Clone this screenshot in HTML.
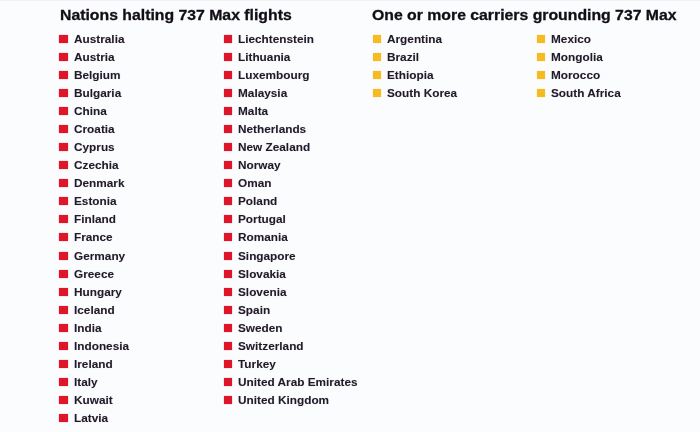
<!DOCTYPE html>
<html><head><meta charset="utf-8">
<style>
html,body{margin:0;padding:0;}
body{width:700px;height:432px;background:#fbfcfe;position:relative;overflow:hidden;font-family:"Liberation Sans",sans-serif;color:#211a28;}
h1{position:absolute;margin:0;font-size:15.2px;transform:scaleX(1.04);transform-origin:0 0;font-weight:bold;line-height:20px;top:5px;white-space:nowrap;color:#120e16;will-change:transform;-webkit-text-stroke:0.3px #120e16;}
.t{position:absolute;will-change:transform;height:20px;line-height:20px;font-size:11.8px;font-weight:bold;white-space:nowrap;text-shadow:0 0 1px rgba(40,30,50,.25);}
#w{position:absolute;left:0;top:0;width:700px;height:432px;}
#tl{position:absolute;left:0;top:0;width:700px;height:1px;background:#f1f1f3;}
i{position:absolute;width:8.4px;height:8px;margin-left:-0.3px;}
.r{background:#df1629;box-shadow:0 0 1.2px rgba(225,20,40,.45);}
.y{background:#f6bb1e;box-shadow:0 0 1.2px rgba(246,187,30,.45);}
</style></head><body><div id="w"><div id="tl"></div>
<h1 style="left:372px">One or more carriers grounding 737 Max</h1>
<h1 style="left:59.5px">Nations halting 737 Max flights</h1>
<i class="r" style="left:59.5px;top:34.70px"></i><div class="t" style="left:73.5px;top:28.70px">Australia</div>
<i class="r" style="left:59.5px;top:52.77px"></i><div class="t" style="left:73.5px;top:46.77px">Austria</div>
<i class="r" style="left:59.5px;top:70.84px"></i><div class="t" style="left:73.5px;top:64.84px">Belgium</div>
<i class="r" style="left:59.5px;top:88.91px"></i><div class="t" style="left:73.5px;top:82.91px">Bulgaria</div>
<i class="r" style="left:59.5px;top:106.98px"></i><div class="t" style="left:73.5px;top:100.98px">China</div>
<i class="r" style="left:59.5px;top:125.05px"></i><div class="t" style="left:73.5px;top:119.05px">Croatia</div>
<i class="r" style="left:59.5px;top:143.12px"></i><div class="t" style="left:73.5px;top:137.12px">Cyprus</div>
<i class="r" style="left:59.5px;top:161.19px"></i><div class="t" style="left:73.5px;top:155.19px">Czechia</div>
<i class="r" style="left:59.5px;top:179.26px"></i><div class="t" style="left:73.5px;top:173.26px">Denmark</div>
<i class="r" style="left:59.5px;top:197.33px"></i><div class="t" style="left:73.5px;top:191.33px">Estonia</div>
<i class="r" style="left:59.5px;top:215.40px"></i><div class="t" style="left:73.5px;top:209.40px">Finland</div>
<i class="r" style="left:59.5px;top:233.47px"></i><div class="t" style="left:73.5px;top:227.47px">France</div>
<i class="r" style="left:59.5px;top:251.54px"></i><div class="t" style="left:73.5px;top:245.54px">Germany</div>
<i class="r" style="left:59.5px;top:269.61px"></i><div class="t" style="left:73.5px;top:263.61px">Greece</div>
<i class="r" style="left:59.5px;top:287.68px"></i><div class="t" style="left:73.5px;top:281.68px">Hungary</div>
<i class="r" style="left:59.5px;top:305.75px"></i><div class="t" style="left:73.5px;top:299.75px">Iceland</div>
<i class="r" style="left:59.5px;top:323.82px"></i><div class="t" style="left:73.5px;top:317.82px">India</div>
<i class="r" style="left:59.5px;top:341.89px"></i><div class="t" style="left:73.5px;top:335.89px">Indonesia</div>
<i class="r" style="left:59.5px;top:359.96px"></i><div class="t" style="left:73.5px;top:353.96px">Ireland</div>
<i class="r" style="left:59.5px;top:378.03px"></i><div class="t" style="left:73.5px;top:372.03px">Italy</div>
<i class="r" style="left:59.5px;top:396.10px"></i><div class="t" style="left:73.5px;top:390.10px">Kuwait</div>
<i class="r" style="left:59.5px;top:414.17px"></i><div class="t" style="left:73.5px;top:408.17px">Latvia</div>
<i class="r" style="left:224px;top:34.70px"></i><div class="t" style="left:238px;top:28.70px">Liechtenstein</div>
<i class="r" style="left:224px;top:52.77px"></i><div class="t" style="left:238px;top:46.77px">Lithuania</div>
<i class="r" style="left:224px;top:70.84px"></i><div class="t" style="left:238px;top:64.84px">Luxembourg</div>
<i class="r" style="left:224px;top:88.91px"></i><div class="t" style="left:238px;top:82.91px">Malaysia</div>
<i class="r" style="left:224px;top:106.98px"></i><div class="t" style="left:238px;top:100.98px">Malta</div>
<i class="r" style="left:224px;top:125.05px"></i><div class="t" style="left:238px;top:119.05px">Netherlands</div>
<i class="r" style="left:224px;top:143.12px"></i><div class="t" style="left:238px;top:137.12px">New Zealand</div>
<i class="r" style="left:224px;top:161.19px"></i><div class="t" style="left:238px;top:155.19px">Norway</div>
<i class="r" style="left:224px;top:179.26px"></i><div class="t" style="left:238px;top:173.26px">Oman</div>
<i class="r" style="left:224px;top:197.33px"></i><div class="t" style="left:238px;top:191.33px">Poland</div>
<i class="r" style="left:224px;top:215.40px"></i><div class="t" style="left:238px;top:209.40px">Portugal</div>
<i class="r" style="left:224px;top:233.47px"></i><div class="t" style="left:238px;top:227.47px">Romania</div>
<i class="r" style="left:224px;top:251.54px"></i><div class="t" style="left:238px;top:245.54px">Singapore</div>
<i class="r" style="left:224px;top:269.61px"></i><div class="t" style="left:238px;top:263.61px">Slovakia</div>
<i class="r" style="left:224px;top:287.68px"></i><div class="t" style="left:238px;top:281.68px">Slovenia</div>
<i class="r" style="left:224px;top:305.75px"></i><div class="t" style="left:238px;top:299.75px">Spain</div>
<i class="r" style="left:224px;top:323.82px"></i><div class="t" style="left:238px;top:317.82px">Sweden</div>
<i class="r" style="left:224px;top:341.89px"></i><div class="t" style="left:238px;top:335.89px">Switzerland</div>
<i class="r" style="left:224px;top:359.96px"></i><div class="t" style="left:238px;top:353.96px">Turkey</div>
<i class="r" style="left:224px;top:378.03px"></i><div class="t" style="left:238px;top:372.03px">United Arab Emirates</div>
<i class="r" style="left:224px;top:396.10px"></i><div class="t" style="left:238px;top:390.10px">United Kingdom</div>
<i class="y" style="left:373px;top:34.70px"></i><div class="t" style="left:387px;top:28.70px">Argentina</div>
<i class="y" style="left:373px;top:52.77px"></i><div class="t" style="left:387px;top:46.77px">Brazil</div>
<i class="y" style="left:373px;top:70.84px"></i><div class="t" style="left:387px;top:64.84px">Ethiopia</div>
<i class="y" style="left:373px;top:88.91px"></i><div class="t" style="left:387px;top:82.91px">South Korea</div>
<i class="y" style="left:537px;top:34.70px"></i><div class="t" style="left:551px;top:28.70px">Mexico</div>
<i class="y" style="left:537px;top:52.77px"></i><div class="t" style="left:551px;top:46.77px">Mongolia</div>
<i class="y" style="left:537px;top:70.84px"></i><div class="t" style="left:551px;top:64.84px">Morocco</div>
<i class="y" style="left:537px;top:88.91px"></i><div class="t" style="left:551px;top:82.91px">South Africa</div>
</div></body></html>
